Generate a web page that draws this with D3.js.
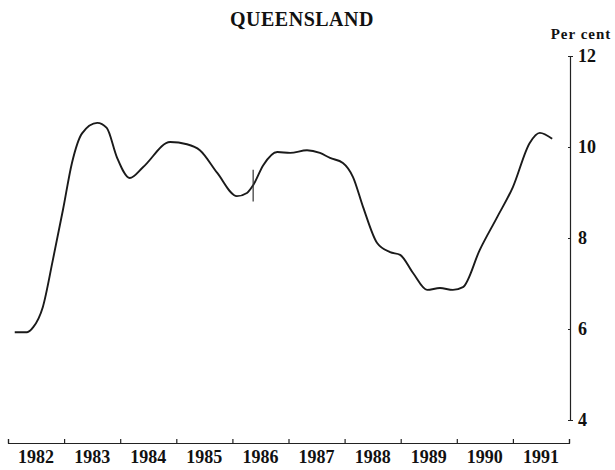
<!DOCTYPE html>
<html>
<head>
<meta charset="utf-8">
<script src="https://cdn.jsdelivr.net/npm/d3@7"></script>
<style>
  body { margin: 0; background: #fff; }
  svg text { font-family: "Liberation Serif", "DejaVu Serif", serif; font-weight: bold; fill: #111; }
  .axis path, .axis line { stroke: #222; stroke-width: 1.2; }
</style>
</head>
<body>
<div id="chart"></div>
<script>
// unemployment rate, Queensland (per cent)
var dates = [1982.12, 1982.34, 1982.45, 1982.62, 1982.80, 1982.98, 1983.14, 1983.32, 1983.59, 1983.76,
  1983.94, 1984.17, 1984.41, 1984.89, 1985.19, 1985.42, 1985.73, 1986.08, 1986.26, 1986.37,
  1986.55, 1986.80, 1987.03, 1987.33, 1987.56, 1987.74, 1987.97, 1988.15, 1988.33, 1988.58,
  1988.81, 1988.99, 1989.22, 1989.47, 1989.70, 1989.93, 1990.11, 1990.41, 1990.72, 1991.00,
  1991.30, 1991.48, 1991.70];
var values = [5.93, 5.93, 6.04, 6.48, 7.52, 8.62, 9.65, 10.30, 10.53, 10.42,
  9.78, 9.32, 9.56, 10.11, 10.06, 9.93, 9.43, 8.92, 8.99, 9.16,
  9.60, 9.89, 9.87, 9.93, 9.87, 9.76, 9.65, 9.34, 8.68, 7.89,
  7.69, 7.63, 7.23, 6.86, 6.90, 6.86, 6.92, 7.74, 8.46, 9.12,
  10.09, 10.31, 10.18];
var years = [1982, 1983, 1984, 1985, 1986, 1987, 1988, 1989, 1990, 1991];
var yTicks = [4, 6, 8, 10, 12];
var breakAt = 1986.37; // series break marker

var width = 615, height = 470;

var svg = d3.select("#chart")
  .append("svg")
    .attr("width", width)
    .attr("height", height);

var x = d3.scaleLinear()
  .domain([1982, 1992])
  .range([8, 569]);

var y = d3.scaleLinear()
  .domain([4, 12])
  .range([420, 56]);

// title
svg.append("text")
  .attr("x", 302)
  .attr("y", 26)
  .attr("text-anchor", "middle")
  .style("font-size", "20px")
  .style("letter-spacing", "0.5px")
  .text("QUEENSLAND");

svg.append("text")
  .attr("x", 581)
  .attr("y", 39)
  .attr("text-anchor", "middle")
  .style("font-size", "15px")
  .style("letter-spacing", "1px")
  .text("Per cent");

// right axis
var yAxis = svg.append("g")
  .attr("class", "axis")
  .attr("transform", "translate(570,0)")
  .call(d3.axisRight(y)
    .tickValues(yTicks)
    .tickSizeInner(-2)
    .tickSizeOuter(3)
    .tickPadding(8)
    .tickFormat(d3.format("d")));
yAxis.selectAll("text").style("font-size", "18px");

// bottom axis, ticks at year boundaries, labels in between
var xAxis = svg.append("g")
  .attr("class", "axis")
  .attr("transform", "translate(0,443)")
  .call(d3.axisBottom(x)
    .tickValues(d3.range(1982, 1993))
    .tickSizeInner(-4)
    .tickSizeOuter(-4)
    .tickFormat(""));

svg.append("g")
  .selectAll("text")
  .data(years)
  .enter()
  .append("text")
    .attr("x", function (d) { return x(d + 0.5); })
    .attr("y", 463)
    .attr("text-anchor", "middle")
    .style("font-size", "18px")
    .text(function (d) { return d; });

// the line
var pts = dates.map(function (d, i) { return [d, values[i]]; });
var line = d3.line()
  .x(function (d) { return x(d[0]); })
  .y(function (d) { return y(d[1]); })
  .curve(d3.curveMonotoneX);

svg.append("path")
  .datum(pts)
  .attr("d", line)
  .attr("fill", "none")
  .attr("stroke", "#1a1a1a")
  .attr("stroke-width", 1.9);

// break marker
svg.append("line")
  .attr("x1", x(breakAt)).attr("x2", x(breakAt))
  .attr("y1", y(9.5)).attr("y2", y(8.8))
  .attr("stroke", "#333")
  .attr("stroke-width", 1.2);
</script>
</body>
</html>
